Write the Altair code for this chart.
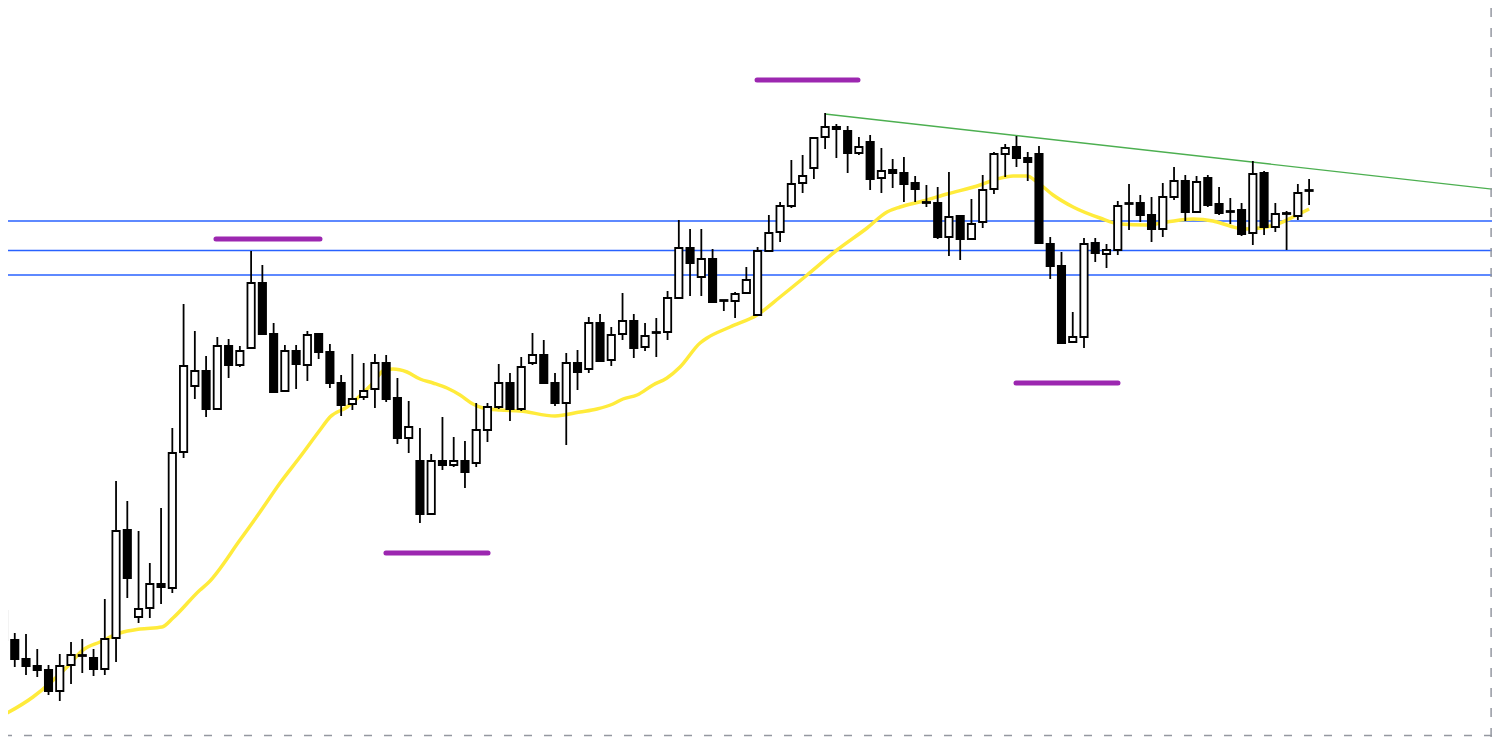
import altair as alt
import pandas as pd

# ---- candle data (price units) ----
opens = [143.89,143.60,143.41,143.34,143.30,143.09,143.35,143.45,143.42,143.31,
         143.62,144.70,143.83,143.92,144.16,144.12,145.48,146.14,146.29,145.91,
         146.54,146.35,146.52,147.17,146.66,146.09,146.49,146.35,146.66,146.48,
         146.17,145.96,146.03,146.11,146.37,146.02,145.62,145.39,144.86,145.39,
         145.35,145.39,145.37,145.70,145.93,146.17,145.91,146.37,146.45,146.17,
         145.97,146.37,146.31,146.77,146.40,146.66,146.79,146.53,146.67,146.68,
         147.02,147.52,147.23,147.41,147.00,146.99,147.07,146.85,147.49,147.68,
         147.94,148.17,148.32,148.63,148.73,148.69,148.47,148.58,148.22,148.30,
         148.27,148.17,147.98,147.97,147.63,147.84,147.61,147.78,148.11,148.46,
         148.53,148.42,148.46,147.56,147.34,146.58,146.63,147.57,147.46,147.50,
         147.96,147.97,147.85,147.71,148.03,148.19,147.88,148.22,147.96,147.89,
         147.90,147.67,148.27,147.73,147.86,147.84,148.09]
highs = [143.97,143.67,143.66,143.51,143.35,143.46,143.58,143.61,143.51,144.01,
         145.19,144.99,144.69,144.37,144.92,145.72,146.96,146.69,146.44,146.63,
         146.61,146.54,147.49,147.35,146.77,146.55,146.55,146.69,146.67,146.56,
         146.25,146.46,146.37,146.46,146.45,146.22,145.99,145.72,145.46,145.83,
         145.63,145.59,145.97,145.97,146.36,146.27,146.43,146.67,146.60,146.27,
         146.47,146.50,146.83,146.86,146.73,147.07,146.86,146.77,146.82,147.09,
         147.80,147.71,147.71,147.51,147.00,147.08,147.33,147.53,147.85,147.98,
         148.40,148.45,148.63,148.87,148.76,148.74,148.63,148.65,148.52,148.41,
         148.43,148.24,148.15,148.13,148.28,147.85,148.01,148.25,148.48,148.56,
         148.64,148.48,148.54,147.63,147.48,146.88,147.62,147.62,147.56,147.99,
         148.16,148.05,148.03,148.17,148.33,148.25,148.24,148.25,148.13,148.02,
         147.97,148.39,148.29,147.97,147.89,148.16,148.21]
lows = [143.43,143.33,143.25,143.23,143.05,142.99,143.16,143.27,143.24,143.25,
        143.38,144.02,143.77,143.82,143.96,144.07,145.42,146.01,145.83,145.91,
        146.22,146.33,146.52,146.66,146.07,146.09,146.11,146.19,146.41,146.12,
        145.84,145.90,146.00,145.92,145.98,145.56,145.47,144.77,144.86,145.30,
        145.33,145.12,145.33,145.58,145.91,145.79,145.89,146.35,146.16,145.94,
        145.55,146.10,146.27,146.38,146.34,146.60,146.42,146.49,146.43,146.60,
        147.02,147.04,147.04,146.97,146.89,146.82,147.06,146.84,147.49,147.58,
        147.92,148.07,148.21,148.51,148.42,148.27,148.45,148.10,148.07,148.12,
        147.98,147.98,147.93,147.61,147.44,147.40,147.60,147.72,148.06,148.23,
        148.33,148.19,147.56,147.21,146.57,146.58,146.52,147.38,147.32,147.45,
        147.70,147.78,147.58,147.63,148.00,147.79,147.87,147.93,147.85,147.76,
        147.64,147.55,147.65,147.68,147.50,147.80,147.95]
closes = [143.60,143.41,143.34,143.30,143.09,143.34,143.45,143.44,143.31,143.61,
          144.69,144.22,143.91,144.16,144.13,145.47,146.34,146.29,145.91,146.54,
          146.35,146.49,147.17,146.66,146.08,146.49,146.36,146.65,146.48,146.17,
          145.95,146.01,146.09,146.37,146.01,145.62,145.73,144.86,145.39,145.35,
          145.39,145.28,145.70,145.93,146.17,145.91,146.33,146.45,146.17,145.97,
          146.37,146.28,146.77,146.39,146.65,146.79,146.52,146.64,146.68,147.02,
          147.52,147.37,147.41,146.98,146.99,147.06,147.20,147.49,147.67,147.94,
          148.16,148.24,148.62,148.73,148.71,148.47,148.53,148.21,148.29,148.27,
          148.16,148.11,147.97,147.63,147.83,147.61,147.76,148.10,148.46,148.52,
          148.42,148.38,147.57,147.34,146.57,146.63,147.56,147.47,147.50,147.94,
          147.97,147.85,147.71,148.03,148.19,147.88,148.18,147.95,147.87,147.88,
          147.66,148.26,147.73,147.86,147.87,148.07,148.10]

# ---- moving average line (bar index, price) ----
ma_idx = [-0.31,2.62,5.64,7.06,8.57,10.35,12.13,14.08,15.06,17.46,18.17,21.01,
          22.79,24.57,26.34,28.12,29.01,30.52,31.94,32.83,33.72,34.61,35.85,37.01,
          38.16,39.40,40.56,41.71,42.60,44.11,45.89,49.00,51.22,52.73,54.15,55.04,
          56.29,57.71,58.95,60.11,61.89,62.51,64.55,66.95,69.00,71.40,74.06,76.73,
          78.50,79.66,81.70,83.83,86.77,88.28,89.70,90.94,91.83,93.25,95.03,97.42,
          99.20,101.60,103.38,105.69,107.46,108.97,110.13,111.64,113.41,114.57,116.0]
ma_val = [142.83,143.03,143.33,143.50,143.58,143.67,143.71,143.73,143.82,144.10,144.17,144.60,
          144.88,145.17,145.43,145.70,145.83,145.93,146.07,146.17,146.29,146.31,146.28,146.21,
          146.17,146.12,146.05,145.96,145.92,145.90,145.89,145.84,145.88,145.91,145.96,146.01,
          146.05,146.15,146.22,146.33,146.57,146.62,146.73,146.85,147.03,147.25,147.50,147.72,
          147.88,147.93,147.99,148.06,148.15,148.21,148.24,148.24,148.18,148.05,147.93,147.82,
          147.76,147.75,147.78,147.81,147.79,147.74,147.71,147.72,147.77,147.83,147.91]

# ---- drawn objects ----
hlines = [147.79, 147.495, 147.25]
seg_x1 = [18.88, 66.95, 33.98, 89.96]
seg_x2 = [28.12, 75.92, 43.05, 99.02]
seg_y = [147.61, 149.20, 144.47, 146.17]
trend_x = [72.99, 132.96]
trend_y = [148.86, 148.10]
edge_x = [132.17]
edge_y = [142.645]

X_DOM = [0.4, 132.25]
Y_DOM = [142.63, 149.92]

df = pd.DataFrame({
    "i": list(range(len(opens))),
    "open": opens, "high": highs, "low": lows, "close": closes,
})
df["up"] = df["close"] > df["open"]

xs = alt.Scale(domain=X_DOM, nice=False, zero=False, padding=0)
ys = alt.Scale(domain=Y_DOM, nice=False, zero=False, padding=0)

base = alt.Chart(df)

wicks = base.mark_rule(color="black", strokeWidth=1.8).encode(
    x=alt.X("i:Q", scale=xs, axis=None),
    y=alt.Y("low:Q", scale=ys, axis=None),
    y2="high:Q",
)

bodies = base.mark_bar(width=7.3, stroke="black", strokeWidth=1.8).encode(
    x=alt.X("i:Q", scale=xs, axis=None),
    y=alt.Y("open:Q", scale=ys, axis=None),
    y2="close:Q",
    fill=alt.condition("datum.up", alt.value("white"), alt.value("black")),
)

ma = alt.Chart(pd.DataFrame({"i": ma_idx, "v": ma_val})).mark_line(
    color="#ffeb3b", strokeWidth=3.5, interpolate="monotone"
).encode(
    x=alt.X("i:Q", scale=xs, axis=None),
    y=alt.Y("v:Q", scale=ys, axis=None),
)

blue = alt.Chart(pd.DataFrame({"y": hlines})).mark_rule(
    color="#2962ff", strokeWidth=1.7
).encode(y=alt.Y("y:Q", scale=ys, axis=None))

purple = alt.Chart(pd.DataFrame({"x": seg_x1, "x2": seg_x2, "y": seg_y})).mark_rule(
    color="#9c27b0", strokeWidth=5, strokeCap="round"
).encode(
    x=alt.X("x:Q", scale=xs, axis=None),
    x2="x2:Q",
    y=alt.Y("y:Q", scale=ys, axis=None),
)

green = alt.Chart(pd.DataFrame({"x": trend_x, "y": trend_y})).mark_line(
    color="#4caf50", strokeWidth=1.4, clip=True
).encode(
    x=alt.X("x:Q", scale=xs, axis=None),
    y=alt.Y("y:Q", scale=ys, axis=None),
)

vdash = alt.Chart(pd.DataFrame({"x": edge_x})).mark_rule(
    color="#9598a1", strokeWidth=1.5, strokeDash=[9, 11]
).encode(x=alt.X("x:Q", scale=xs, axis=None))

hdash = alt.Chart(pd.DataFrame({"y": edge_y})).mark_rule(
    color="#9598a1", strokeWidth=1.5, strokeDash=[8, 12]
).encode(y=alt.Y("y:Q", scale=ys, axis=None))

chart = alt.layer(
    blue, green, ma, purple, wicks, bodies, vdash, hdash
).properties(
    width=1484, height=729,
    autosize=alt.AutoSizeParams(type="none"),
    padding=0,
    background="white",
).configure_view(strokeWidth=0)

chart.save("out.html", embed_options={"renderer": "svg", "actions": False})
